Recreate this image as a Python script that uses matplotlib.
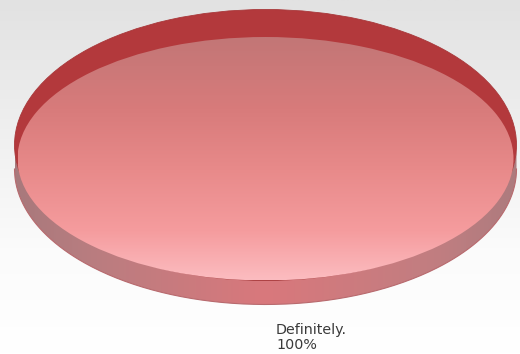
import numpy as np
import matplotlib
matplotlib.use("Agg")
import matplotlib.pyplot as plt
from matplotlib.patches import Wedge, Polygon
from matplotlib.transforms import Affine2D
from matplotlib.colors import LinearSegmentedColormap

# ---- data ----
categories = ["Definitely."]
values = [100]

W, H = 520, 354
fig = plt.figure(figsize=(W / 100, H / 100), dpi=100)
ax = fig.add_axes([0, 0, 1, 1])
ax.set_xlim(0, W)
ax.set_ylim(H, 0)
ax.axis("off")

# background gradient
bg = LinearSegmentedColormap.from_list("bg", [(0, "#e2e2e2"), (0.7, "#fbfbfb"), (1, "#ffffff")])
ax.imshow(np.linspace(0, 1, 256).reshape(-1, 1), cmap=bg, extent=[0, W, H, 0],
          aspect="auto", zorder=0)

# pie geometry (pixel space)
cx, cy = 265.5, 145.0
a, b = 251.0, 135.5
depth = 24.0
inner_top = 37.0

total = float(sum(values))
start = 90.0
fracs = [v / total for v in values]

for frac, cat, val in zip(fracs, categories, values):
    theta1 = start
    theta2 = start + 360.0 * frac

    # --- side wall ---
    t = np.linspace(0, np.pi, 300)
    xs = cx + a * np.cos(t)
    ys = cy + b * np.sin(t)
    side_pts = np.concatenate([np.column_stack([xs, ys]),
                               np.column_stack([xs[::-1], ys[::-1] + depth])])
    side = Polygon(side_pts, closed=True, facecolor="none", edgecolor="none", zorder=1)
    ax.add_patch(side)
    side_cmap = LinearSegmentedColormap.from_list(
        "side", [(0, "#a8797c"), (0.15, "#b97d80"), (0.5, "#d9787c"),
                 (0.85, "#c07e81"), (1, "#ad7b7e")])
    im = ax.imshow(np.linspace(0, 1, 256).reshape(1, -1), cmap=side_cmap,
                   extent=[cx - a, cx + a, cy + b + depth, cy], aspect="auto", zorder=1)
    im.set_clip_path(side)
    # bottom edge line
    ax.plot(xs, ys + depth, color="#b86a6e", lw=0.8, zorder=2)

    # --- top face (outer rim) ---
    tr = Affine2D().scale(a, b).translate(cx, cy) + ax.transData
    rim = Wedge((0, 0), 1.0, theta1, theta2, transform=tr,
                facecolor="#b3393c", edgecolor="#a8383a", lw=0.6, zorder=3)
    ax.add_patch(rim)

    # --- inner gradient face ---
    bottom = cy + b
    ib = (bottom - inner_top) / 2.0
    icy = inner_top + ib
    ia = a - 3.0
    tr2 = Affine2D().scale(ia, ib).translate(cx, icy) + ax.transData
    face = Wedge((0, 0), 1.0, theta1, theta2, transform=tr2,
                 facecolor="none", edgecolor="none", zorder=4)
    ax.add_patch(face)
    face_cmap = LinearSegmentedColormap.from_list(
        "face", [(0, "#c27676"), (0.3, "#d87b7b"), (0.55, "#e88a8a"),
                 (0.8, "#f59c9e"), (1, "#fcbcc0")])
    im2 = ax.imshow(np.linspace(0, 1, 256).reshape(-1, 1), cmap=face_cmap,
                    extent=[cx - ia, cx + ia, bottom, inner_top], aspect="auto", zorder=4)
    im2.set_clip_path(face)

    # label
    ax.text(276, 349, f"{cat}\n{val:.0f}%", ha="left", va="baseline",
            fontsize=10.3, color="#3a3a3a", family="DejaVu Sans", linespacing=1.1,
            zorder=5)

fig.savefig("out.png", dpi=100)
